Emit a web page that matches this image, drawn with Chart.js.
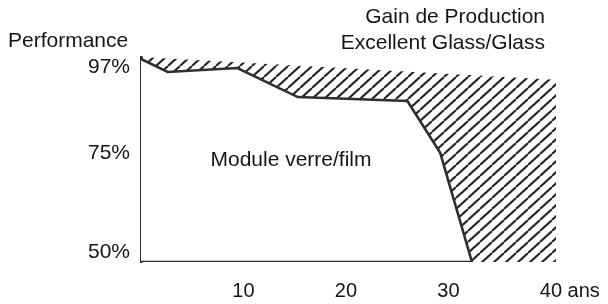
<!DOCTYPE html>
<html><head><meta charset="utf-8">
<script src="https://cdn.jsdelivr.net/npm/chart.js@4/dist/chart.umd.min.js"></script>
<style>html,body{margin:0;padding:0;background:#fff}#wrap{width:608px;height:304px}</style>
</head><body><div id="wrap"><canvas id="c" width="608" height="304"></canvas></div>
<script>
// ---- data ----
const filmYears = [0, 2.6, 9.4, 15.3, 26.0, 29.2, 32.3];
const filmPerf  = [99.1, 95.8, 96.8, 89.4, 88.4, 75.2, 47.4];
const glassYears = [0, 40.5];
const glassPerf  = [99.6, 93.8];
const axisFloor = 47.4;
const yTicks = [50, 75, 97];
const xTicks = [10, 20, 30, 40];
const xUnit = 'ans';
const yAxisTitle = 'Performance';
const gainLabel = ['Gain de Production', 'Excellent Glass/Glass'];
const filmLabel = 'Module verre/film';

const FONT = '"Liberation Sans", Arial, Helvetica, sans-serif';
const INK = '#151515';
const LINE = '#2f2f2f';

function hatchPattern() {
  const w = 12, h = 11;
  const c = document.createElement('canvas');
  c.width = w; c.height = h;
  const g = c.getContext('2d');
  g.strokeStyle = '#262626';
  g.lineWidth = 2.1;
  g.beginPath();
  for (let k = -1; k <= 1; k++) { g.moveTo(k * w, h); g.lineTo(k * w + w, 0); }
  g.stroke();
  return g.createPattern(c, 'repeat');
}

const pts = (xs, ys) => xs.map((x, i) => ({x, y: ys[i]}));

const textPlugin = {
  id: 'texts',
  afterDraw(chart) {
    const g = chart.ctx;
    g.save();
    g.fillStyle = INK;
    g.font = '21px ' + FONT;
    g.textBaseline = 'middle';
    g.textAlign = 'left';
    g.fillText(yAxisTitle, 8, 41);
    g.textAlign = 'right';
    g.fillText(gainLabel[0], 545, 17);
    g.fillText(gainLabel[1], 545, 43);
    g.textAlign = 'center';
    g.fillText(filmLabel, 291, 160);
    const xs = chart.scales.x;
    const last = xTicks[xTicks.length - 1];
    const px = xs.getPixelForValue(last);
    g.font = '20px ' + FONT;
    const w = g.measureText(String(last)).width;
    g.textAlign = 'left';
    g.fillText(' ' + xUnit, px + w / 2, 291);
    g.restore();
  }
};

new Chart(document.getElementById('c'), {
  type: 'line',
  data: {
    datasets: [
      {
        label: 'Glass/Glass',
        data: pts(glassYears, glassPerf),
        borderWidth: 0,
        borderColor: 'rgba(0,0,0,0)',
        backgroundColor: hatchPattern(),
        fill: 'start',
        pointRadius: 0,
        order: 3
      },
      {
        label: filmLabel,
        data: pts(filmYears, filmPerf),
        borderColor: LINE,
        borderWidth: 2.6,
        backgroundColor: '#ffffff',
        fill: 'start',
        pointRadius: 0,
        borderJoinStyle: 'miter',
        order: 2
      },
      {
        label: 'base',
        data: pts([filmYears[0], filmYears[filmYears.length - 1]], [axisFloor, axisFloor]),
        borderColor: LINE,
        borderWidth: 2.6,
        fill: false,
        pointRadius: 0,
        order: 1
      }
    ]
  },
  options: {
    responsive: false,
    animation: false,
    events: [],
    layout: { padding: { left: 0, right: 52, top: 57, bottom: 0 } },
    elements: { line: { tension: 0 } },
    plugins: { legend: { display: false }, tooltip: { enabled: false }, title: { display: false } },
    scales: {
      x: {
        type: 'linear', min: 0, max: 40.5,
        afterBuildTicks: s => { s.ticks = xTicks.map(v => ({value: v})); },
        afterFit: s => { s.height = 42; },
        ticks: { font: { size: 20, family: FONT }, color: INK, padding: 17, maxRotation: 0, autoSkip: false },
        grid: { display: false, drawTicks: false },
        border: { display: false }
      },
      y: {
        type: 'linear', min: axisFloor, max: 99.6, z: 1,
        afterBuildTicks: s => { s.ticks = yTicks.map(v => ({value: v})); },
        afterFit: s => { s.width = 141; },
        ticks: { font: { size: 21, family: FONT }, color: INK, padding: 11, callback: v => v + '%' },
        grid: { display: false, drawTicks: false },
        border: { display: true, color: LINE, width: 2.6 }
      }
    }
  },
  plugins: [textPlugin]
});
</script>
</body></html>
